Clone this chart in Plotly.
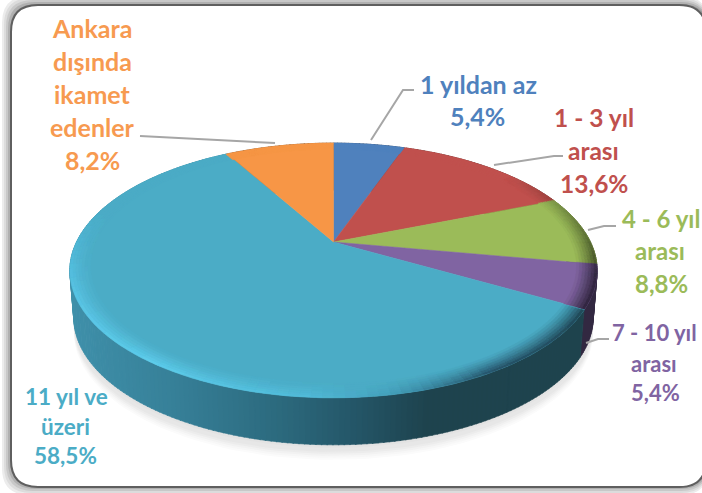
import math
import plotly.graph_objects as go

# ---------- data ----------
categories = ["1 yıldan az", "1 - 3 yıl arası", "4 - 6 yıl arası", "7 - 10 yıl arası", "11 yıl ve üzeri", "Ankara dışında ikamet edenler"]
values = [5.4, 13.6, 8.8, 5.4, 58.5, 8.2]
colors = ["#4F81BD", "#C0504D", "#9BBB59", "#8064A2", "#4BACC6", "#F79646"]
text_colors = ["#4F81BD", "#C0504D", "#9BBB59", "#8064A2", "#4BACC6", "#F79A50"]
label_sizes = [25, 24.5, 24, 22, 22.5, 25]
label_lines = [["1 yıldan az"], ["1 - 3 yıl", "arası"], ["4 - 6 yıl", "arası"], ["7 - 10 yıl", "arası"], ["11 yıl ve", "üzeri"], ["Ankara", "dışında", "ikamet", "edenler"]]

# ---------- layout of the picture (pixels) ----------
W, H = 702, 493
CX, CY, A, B, K = 333.5, 242.0, 257.0, 121.0, 0.2235
DEPTH, BOTTOM_SCALE = 47.0, 0.985
label_anchor = [
    [(478, 84), (477, 116)],
    [(594, 117), (593, 150), (594, 183)],
    [(661, 218), (660, 250), (661, 283)],
    [(654, 332), (654, 363), (655, 392)],
    [(66, 396), (65, 426), (65, 455)],
    [(92, 28), (92, 61), (92, 94), (92, 127), (92, 160)],
]
leaders = [
    [(371, 140), (403, 90), (414, 90)],
    [(494, 165), (554, 156), (563, 156)],
    [(588, 230), (604, 226), (616, 226)],
    [(586, 343), (598, 339), (609, 339)],
    [(140, 136), (275, 143)],
]


def hex2rgb(c):
    c = c.lstrip("#")
    return tuple(int(c[i:i + 2], 16) for i in (0, 2, 4))


def rgb2hex(c):
    return "#%02x%02x%02x" % tuple(max(0, min(255, int(round(v)))) for v in c)


def blend(c1, c2, t):
    a, b = hex2rgb(c1), hex2rgb(c2)
    return rgb2hex([a[i] + (b[i] - a[i]) * t for i in range(3)])


def darken(c, f=0.4):
    return rgb2hex([v * f for v in hex2rgb(c)])


def stops(t, table):
    if t <= table[0][0]:
        return table[0][1]
    for (t0, c0), (t1, c1) in zip(table, table[1:]):
        if t <= t1:
            return blend(c0, c1, (t - t0) / (t1 - t0))
    return table[-1][1]


def P(theta_deg, s=1.0, dz=0.0, sx=1.0):
    th = math.radians(theta_deg)
    u, v = s * math.sin(th), s * math.cos(th)
    w = 1 + K * v
    return (CX + sx * A * u / w, CY - B * v / w + dz)


total = sum(values)
edges = [0.0]
for val in values:
    edges.append(edges[-1] + val / total * 360.0)


def slice_of(theta):
    for i in range(len(values)):
        if edges[i] <= theta < edges[i + 1]:
            return i
    return len(values) - 1


fig = go.Figure()


def add_polys(polys, color, lw=0.6):
    xs, ys = [], []
    for poly in polys:
        xs += [p[0] for p in poly] + [poly[0][0], None]
        ys += [p[1] for p in poly] + [poly[0][1], None]
    fig.add_trace(go.Scatter(x=xs, y=ys, mode="lines", fill="toself", fillcolor=color,
                             line=dict(color=color, width=lw), hoverinfo="skip", showlegend=False))


# soft shadow below the pie
shadow_steps = [(15, "#fbfbfb"), (13, "#f7f7f7"), (11, "#f2f2f2"), (9, "#ececec"), (7, "#e7e7e7"), (3, "#e3e3e3")]
for off, col in shadow_steps:
    ell = [P(t, 1.0, DEPTH + off, BOTTOM_SCALE) for t in range(0, 360, 2)]
    add_polys([ell], col, 0)

# side wall, from back to front
side_stops = [(70, "#3f90aa"), (180, "#367f97"), (280, "#2c6a7e"), (350, "#25586a"), (430, "#1e434e"), (600, "#1e434e")]
groups = {}
for t in range(0, 360):
    i = slice_of(t + 0.5)
    top0, top1 = P(t), P(t + 1.2)
    bot0, bot1 = P(t, 1, DEPTH, BOTTOM_SCALE), P(t + 1.2, 1, DEPTH, BOTTOM_SCALE)
    if i == 4:
        col = stops(top0[0], side_stops)
    else:
        col = darken(colors[i], 0.4)
    groups.setdefault(col, []).append([top0, top1, bot1, bot0])
for col, polys in groups.items():
    add_polys(polys, col)

# top faces
for i, c in enumerate(colors):
    steps = max(2, int(edges[i + 1] - edges[i]))
    arc = [P(edges[i] + (edges[i + 1] - edges[i]) * j / steps) for j in range(steps + 1)]
    add_polys([[(CX, CY)] + arc], c, 0.5)

# bevel along the rim
teal_rim = [(100, "#1e434e"), (150, "#26546a"), (170, "#44a0bb"), (185, "#50bad8"), (215, "#5ccbea"),
            (245, "#58c4e4"), (265, "#50b8d8"), (285, "#4bacc6"), (360, "#4bacc6")]
RINGS = 7
BEVEL = 0.075
for r in range(RINGS):
    s0 = 1 - BEVEL * (RINGS - r) / RINGS
    s1 = 1 - BEVEL * (RINGS - r - 1) / RINGS
    f = ((r + 1) / RINGS) ** 1.3
    groups = {}
    for t in range(0, 360, 2):
        i = slice_of(t + 1)
        if i == 4:
            target = stops(t + 1, teal_rim)
        else:
            target = blend(colors[i], darken(colors[i], 0.4), max(0, min(1, (t - 50) / 55)))
            if t > 300:
                target = colors[i]
        col = blend(colors[i], target, f)
        col = rgb2hex([round(v / 3) * 3 for v in hex2rgb(col)])
        t2 = min(t + 2, edges[i + 1] if edges[i + 1] > t else t + 2)
        groups.setdefault(col, []).append([P(t, s0), P(t2, s0), P(t2, s1), P(t, s1)])
    for col, polys in groups.items():
        add_polys(polys, col, 0.4)

# leader lines
for pts in leaders:
    fig.add_trace(go.Scatter(x=[p[0] for p in pts], y=[p[1] for p in pts], mode="lines",
                             line=dict(color="#a6a6a6", width=2), hoverinfo="skip", showlegend=False))

# labels
annotations = []
for i, val in enumerate(values):
    lines = label_lines[i] + [f"{val:.1f}%".replace(".", ",")]
    for (x, y), line in zip(label_anchor[i], lines):
        annotations.append(dict(x=x, y=y, text=f"<b>{line}</b>", showarrow=False, xanchor="center", yanchor="middle",
                                font=dict(family="Lato", size=label_sizes[i], color=text_colors[i])))


def rrect(x0, y0, x1, y1, r):
    return (f"M{x0 + r},{y0} L{x1 - r},{y0} Q{x1},{y0} {x1},{y0 + r} L{x1},{y1 - r} Q{x1},{y1} {x1 - r},{y1} "
            f"L{x0 + r},{y1} Q{x0},{y1} {x0},{y1 - r} L{x0},{y0 + r} Q{x0},{y0} {x0 + r},{y0} Z")


shapes = []
frame_glow = [(9, "#ececec"), (7, "#dcdcdc"), (5, "#c8c8c8"), (3, "#b0b0b0"), (1, "#9a9a9a")]
for g, col in frame_glow:
    shapes.append(dict(type="path", path=rrect(11 - g, 5 - g, 708, 487 + g - 1, 27), xref="x", yref="y",
                       fillcolor=col, line=dict(width=0), layer="below"))
shapes.append(dict(type="path", path=rrect(11, 5, 706, 487, 27), xref="x", yref="y",
                   fillcolor="#ffffff", line=dict(color="#5f5f5f", width=2), layer="below"))

fig.update_layout(
    width=W, height=H, margin=dict(l=0, r=0, t=0, b=0, pad=0), autosize=False,
    paper_bgcolor="#ffffff", plot_bgcolor="rgba(0,0,0,0)", showlegend=False,
    xaxis=dict(range=[0, W], visible=False, fixedrange=True),
    yaxis=dict(range=[H, 0], visible=False, fixedrange=True),
    annotations=annotations, shapes=shapes,
)
fig.write_html("out.html", config={"displayModeBar": False, "staticPlot": True},
               post_script="document.body.style.margin='0';document.body.style.overflow='hidden';")
